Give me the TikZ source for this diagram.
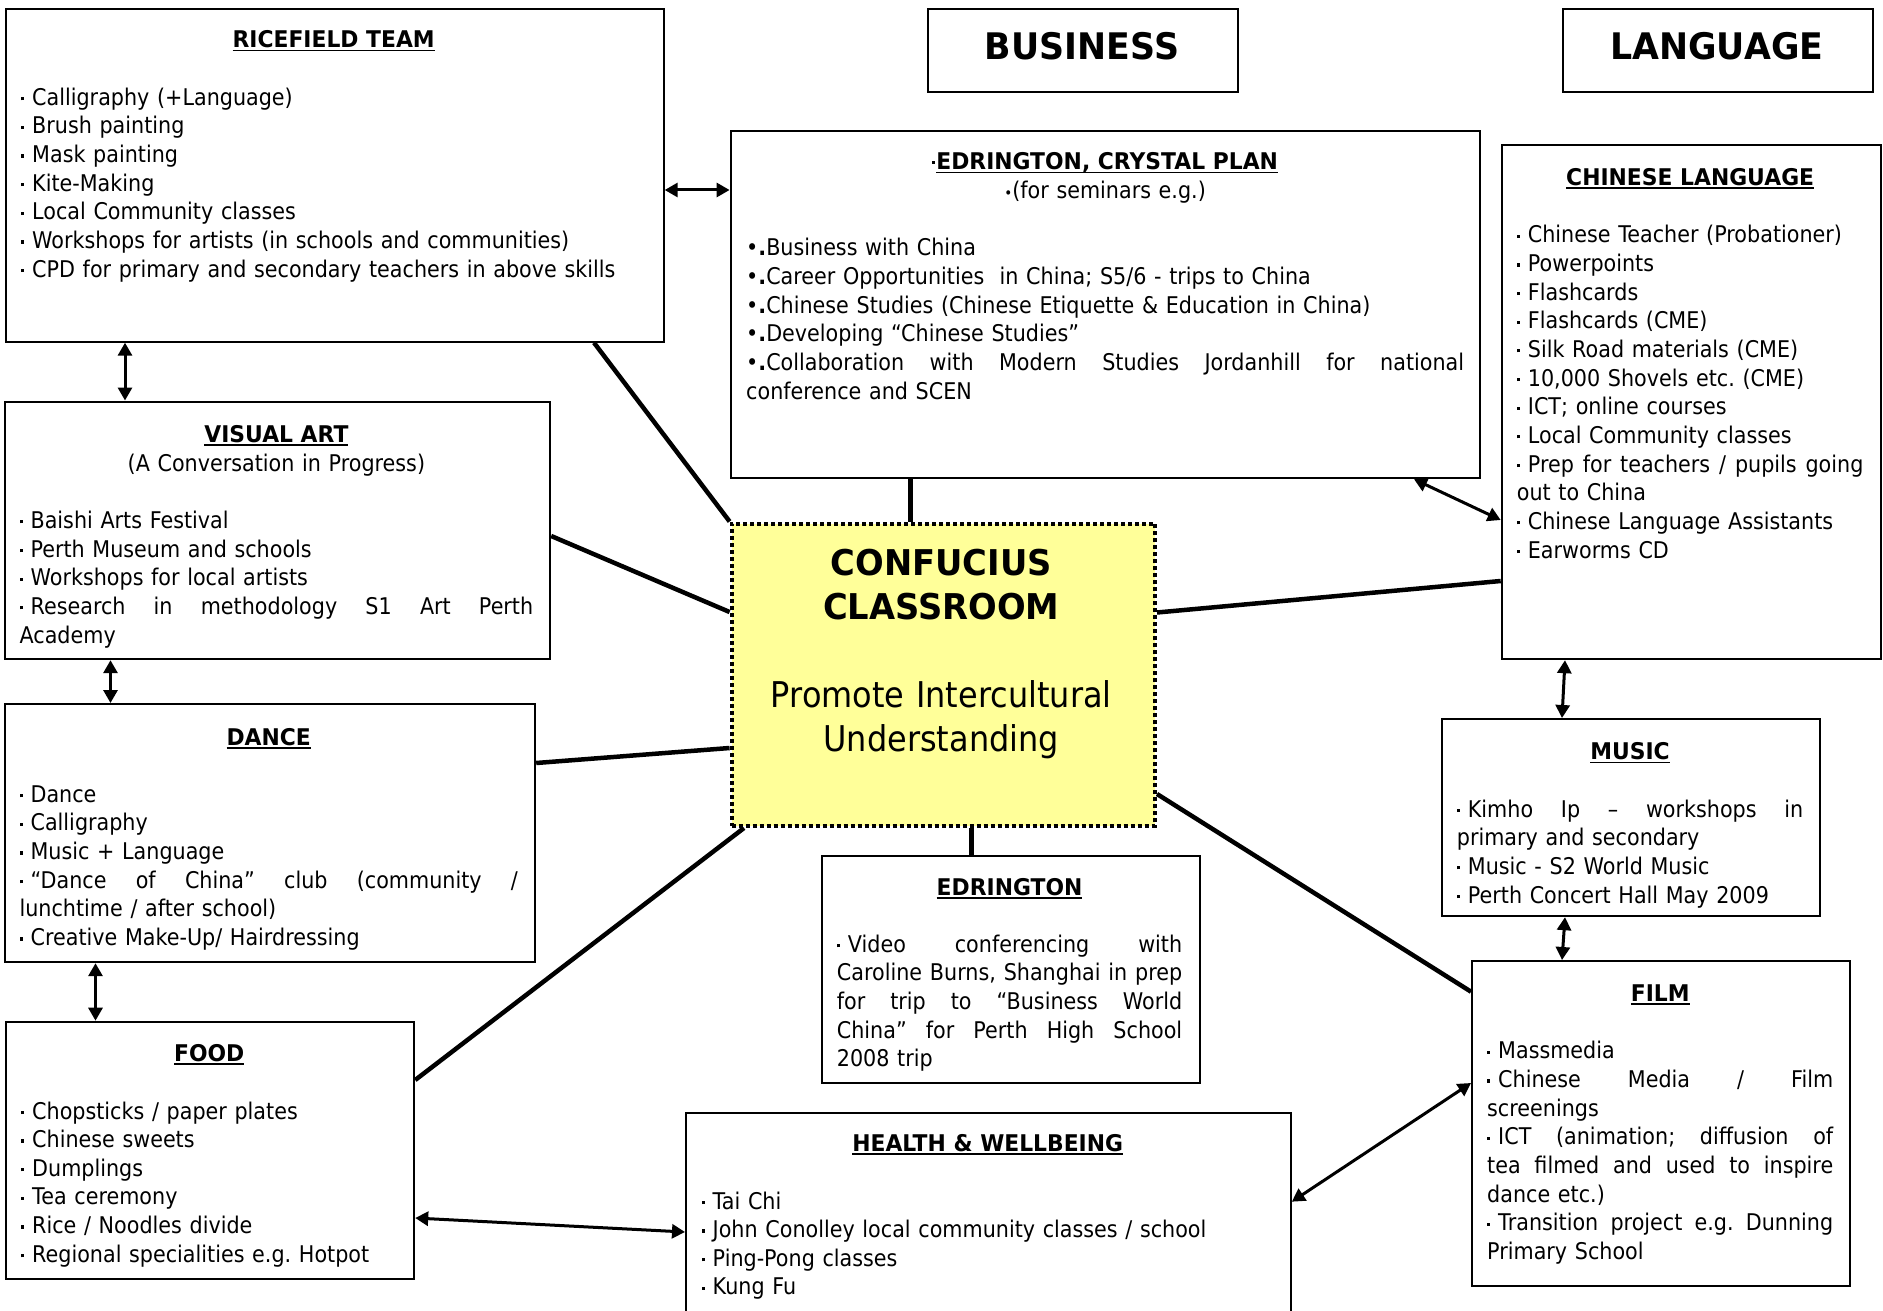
\documentclass[tikz,border=0pt]{standalone}
\usepackage{fontspec}
\setmainfont{DejaVu Sans}[FakeStretch=0.9]
\newfontfamily\tfont{DejaVu Sans}[FakeStretch=0.95]
\usetikzlibrary{arrows.meta}
\frenchspacing
\definecolor{ccyellow}{RGB}{255,255,153}
\newcommand\myul[1]{\setbox0\hbox{#1}\rlap{\rule[-3.5pt]{\wd0}{1.8pt}}\box0}
\newcommand\bu{\rule[5pt]{3.2pt}{3.2pt}\hspace{7.8pt}}
\newcommand\Ll[1]{\makebox[\hsize][l]{#1}\par}
\newcommand\Lj[1]{\makebox[\hsize][s]{\spaceskip=0.28em plus 1fil\relax\xspaceskip=\spaceskip #1}\par}
\newcommand\Lc[1]{\makebox[\hsize][c]{#1}\par}
\newcommand\Le{\mbox{}\par}
\newcommand\Tt[1]{{\tfont\bfseries\myul{#1}}}
\newcommand\bodyfont{\fontsize{23}{28.65}\selectfont\lineskiplimit=-50pt\relax}
\newcommand\ccfont{\fontsize{35.5}{44}\selectfont\lineskiplimit=-50pt\relax}
\begin{document}
\begin{tikzpicture}[x=1pt,y=-1pt,
  box/.style={draw, line width=2.2pt, inner sep=0pt, anchor=north west},
  conn/.style={line width=4.5pt},
  arr/.style={line width=3pt, {Triangle[length=13pt,width=14pt]}-{Triangle[length=13pt,width=14pt]}},
  body/.style={anchor=base west, inner sep=0pt, text width=#1, font=\bodyfont},
  hdr/.style={anchor=base, inner sep=0pt, font=\tfont\bfseries\fontsize{36.6}{40}\selectfont}]
\path[use as bounding box] (0,0) rectangle (1883,1311);
\fill[white] (0,0) rectangle (1883,1311);

% boxes
\node[box, minimum width=658pt, minimum height=332.2pt] (rice) at (4.5,8.3) {};
\node[box, minimum width=310pt, minimum height=83pt] (business) at (927,8) {};
\node[box, minimum width=310.3pt, minimum height=83.2pt] (language) at (1561.7,7.8) {};
\node[box, minimum width=749.4pt, minimum height=347pt] (ecp) at (729.6,130) {};
\node[box, minimum width=379.3pt, minimum height=514pt] (chlang) at (1500.7,144) {};
\node[box, minimum width=545pt, minimum height=257.5pt] (visart) at (4,400.5) {};
\node[box, minimum width=530pt, minimum height=258pt] (dance) at (4,703) {};
\node[box, minimum width=408.5pt, minimum height=257.3pt] (food) at (4.5,1020.7) {};
\node[box, minimum width=377.5pt, minimum height=227pt] (edr) at (821,855) {};
\node[box, minimum width=604.6pt, minimum height=230pt] (health) at (685,1111.7) {};
\node[box, minimum width=378.3pt, minimum height=197pt] (music) at (1440.7,718) {};
\node[box, minimum width=378pt, minimum height=325pt] (film) at (1471,960) {};
\node[anchor=north west, inner sep=0pt, minimum width=423.4pt, minimum height=302.5pt,
      fill=ccyellow, draw, line width=4pt, dash pattern=on 4pt off 3pt] (cc) at (729.6,521.5) {};

% headers
\node[hdr] (bustxt) at (1082,60) {BUSINESS};
\node[hdr] (langtxt) at (1716.8,60) {LANGUAGE};

% texts
\node[body=625pt] (ricetxt) at (21,48) {%
\Lc{\Tt{RICEFIELD TEAM}}\Le
\Ll{\bu Calligraphy (+Language)}
\Ll{\bu Brush painting}
\Ll{\bu Mask painting}
\Ll{\bu Kite-Making}
\Ll{\bu Local Community classes}
\Ll{\bu Workshops for artists (in schools and communities)}
\Ll{\bu CPD for primary and secondary teachers in above skills}};

\node[body=717.8pt] (ecptxt) at (746,170) {%
\Lc{\rule[6pt]{3.2pt}{3.2pt}\hspace{1pt}\Tt{EDRINGTON, CRYSTAL PLAN}}
\Lc{{\fontsize{15}{15}\selectfont •}(for seminars e.g.)}\Le
\Ll{•\textbf{.}Business with China}
\Ll{•\textbf{.}Career Opportunities\ \ in China; S5/6 - trips to China}
\Ll{•\textbf{.}Chinese Studies (Chinese Etiquette \& Education in China)}
\Ll{•\textbf{.}Developing “Chinese Studies”}
\Lj{•\textbf{.}Collaboration with Modern Studies Jordanhill for national}
\Ll{conference and SCEN}};

\node[body=346.5pt] (chlangtxt) at (1516.7,185.6) {%
\Lc{\Tt{CHINESE LANGUAGE}}\Le
\Ll{\bu Chinese Teacher (Probationer)}
\Ll{\bu Powerpoints}
\Ll{\bu Flashcards}
\Ll{\bu Flashcards (CME)}
\Ll{\bu Silk Road materials (CME)}
\Ll{\bu 10,000 Shovels etc. (CME)}
\Ll{\bu ICT; online courses}
\Ll{\bu Local Community classes}
\Lj{\bu Prep for teachers / pupils going}
\Ll{out to China}
\Ll{\bu Chinese Language Assistants}
\Ll{\bu Earworms CD}};

\node[body=513.6pt] (visarttxt) at (19.4,442.5) {%
\Lc{\Tt{VISUAL ART}}
\Lc{(A Conversation in Progress)}\Le
\Ll{\bu Baishi Arts Festival}
\Ll{\bu Perth Museum and schools}
\Ll{\bu Workshops for local artists}
\Lj{\bu Research in methodology S1 Art Perth}
\Ll{Academy}};

\node[body=498.3pt] (dancetxt) at (19.4,745) {%
\Lc{\Tt{DANCE}}\Le
\Ll{\bu Dance}
\Ll{\bu Calligraphy}
\Ll{\bu Music + Language}
\Lj{\bu “Dance of China” club (community /}
\Ll{lunchtime / after school)}
\Ll{\bu Creative Make-Up/ Hairdressing}};

\node[body=376pt] (foodtxt) at (21,1061.7) {%
\Lc{\Tt{FOOD}}\Le
\Ll{\bu Chopsticks / paper plates}
\Ll{\bu Chinese sweets}
\Ll{\bu Dumplings}
\Ll{\bu Tea ceremony}
\Ll{\bu Rice / Noodles divide}
\Ll{\bu Regional specialities e.g. Hotpot}};

\node[body=345.3pt] (edrtxt) at (836.7,895) {%
\Lc{\Tt{EDRINGTON}}\Le
\Lj{\bu Video conferencing with}
\Lj{Caroline Burns, Shanghai in prep}
\Lj{for trip to “Business World}
\Lj{China” for Perth High School}
\Ll{2008 trip}};

\node[body=572pt] (healthtxt) at (701.5,1151.7) {%
\Lc{\Tt{HEALTH \& WELLBEING}}\Le
\Ll{\bu Tai Chi}
\Ll{\bu John Conolley local community classes / school}
\Ll{\bu Ping-Pong classes}
\Ll{\bu Kung Fu}};

\node[body=346.3pt] (musictxt) at (1456.7,759.8) {%
\Lc{\Tt{MUSIC}}\Le
\Lj{\bu Kimho Ip – workshops in}
\Ll{primary and secondary}
\Ll{\bu Music - S2 World Music}
\Ll{\bu Perth Concert Hall May 2009}};

\node[body=346pt] (filmtxt) at (1487,1001.6) {%
\Lc{\Tt{FILM}}\Le
\Ll{\bu Massmedia}
\Lj{\bu Chinese Media / Film}
\Ll{screenings}
\Lj{\bu ICT (animation; diffusion of}
\Lj{tea filmed and used to inspire}
\Ll{dance etc.)}
\Lj{\bu Transition project e.g. Dunning}
\Ll{Primary School}};

\node[anchor=base, inner sep=0pt, text width=420pt, font=\ccfont] (cctxt) at (941.3,575) {%
\Lc{\tfont\bfseries CONFUCIUS}
\Lc{\tfont\bfseries CLASSROOM}\Le
\Lc{Promote Intercultural}
\Lc{Understanding}};

% connectors
\draw[conn] (594,0 |- rice.south) -- (cc.north west);
\draw[conn] (visart.east |- 0,536) -- (cc.west |- 0,612);
\draw[conn] (dance.east |- 0,763) -- (cc.west |- 0,748);
\draw[conn] (744,0 |- cc.south) -- (food.east |- 0,1080);
\draw[conn] (910.7,0 |- ecp.south) -- (910.7,0 |- cc.north);
\draw[conn] (971.4,0 |- cc.south) -- (971.4,0 |- edr.north);
\draw[conn] (cc.east |- 0,612.5) -- (chlang.west |- 0,581);
\draw[conn] (cc.east |- 0,794) -- (film.west |- 0,991.7);

% arrows
\draw[arr] (rice.east |- 0,190) -- (ecp.west |- 0,190);
\draw[arr] (125,0 |- rice.south) -- (125,0 |- visart.north);
\draw[arr] (110.5,0 |- visart.south) -- (110.5,0 |- dance.north);
\draw[arr] (95.5,0 |- dance.south) -- (95.5,0 |- food.north);
\draw[arr] (1414,0 |- ecp.south) -- (chlang.west |- 0,520);
\draw[arr] (1565,0 |- chlang.south) -- (1562,0 |- music.north);
\draw[arr] (1565,0 |- music.south) -- (1562,0 |- film.north);
\draw[arr] (food.east |- 0,1218) -- (health.west |- 0,1232);
\draw[arr] (health.east |- 0,1201.7) -- (film.west |- 0,1083);
\end{tikzpicture}
\end{document}
